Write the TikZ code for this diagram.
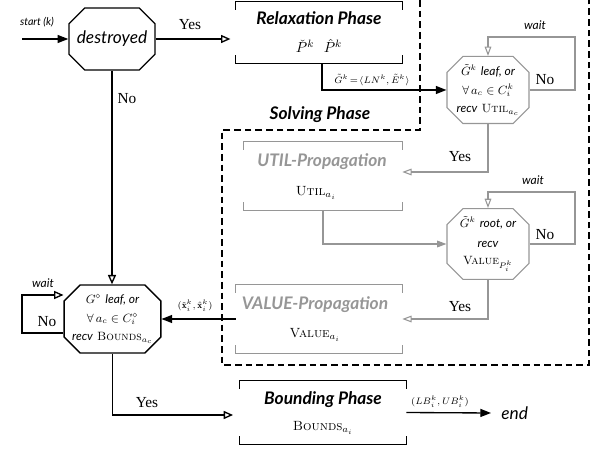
\documentclass[tikz,border=0pt]{standalone}
\usepackage{amsmath,amssymb}
\usepackage{fontspec}
\newfontfamily\lato{Lato}
\newfontfamily\timesf{Liberation Serif}
\usetikzlibrary{arrows.meta,shapes.misc,calc}
\definecolor{lgray}{RGB}{150,150,150}
\newcommand\phasebracket[2]{%
  \draw[#2] ($(#1.north west)+(0,8)$) -- (#1.north west) -- (#1.north east) -- ($(#1.north east)+(0,8)$);
  \draw[#2] ($(#1.south west)+(0,-8)$) -- (#1.south west) -- (#1.south east) -- ($(#1.south east)+(0,-8)$);}
\begin{document}
\begin{tikzpicture}[x=0.75pt,y=-0.75pt,
  oct/.style={chamfered rectangle, chamfered rectangle xsep=6pt, chamfered rectangle ysep=6pt,
    draw, line width=1pt, inner sep=0pt, align=center, font=\fontsize{9}{14}\selectfont},
  phasebox/.style={rectangle, inner sep=0pt, draw=none},
  title/.style={font=\lato\bfseries\itshape\fontsize{13}{15}\selectfont},
  sub/.style={font=\fontsize{10}{12}\selectfont},
  lbl/.style={font=\timesf\fontsize{11.5}{13}\selectfont, inner sep=1pt},
  small/.style={font=\fontsize{7}{8}\selectfont, inner sep=1pt},
  waitlbl/.style={font=\lato\itshape\fontsize{9}{11}\selectfont, inner sep=1pt},
  ln/.style={line width=1pt, draw=black},
  gln/.style={line width=0.8pt, draw=lgray},
  filltip/.style={-{Triangle[length=8pt,width=6pt]}},
  opentip/.style={-{Triangle[open,length=7pt,width=6pt]}},
  gfilltip/.style={-{Triangle[length=7pt,width=5pt,color=lgray]}},
  gopentip/.style={-{Triangle[open,length=7pt,width=5pt,color=lgray]}}
]
\useasboundingbox (0,0) rectangle (603,452);

% dashed solving-phase region
\draw[line width=0.9pt, dash pattern=on 5pt off 3pt] (420,0) -- (420,130) -- (222,130) -- (222,365) -- (589,365) -- (589,0);
\node[title] (solvT) at (320,115) {Solving Phase};

% destroyed
\node[oct, minimum width=61.5pt, minimum height=46.5pt, font=\lato\itshape\fontsize{13}{15}\selectfont] (destroyed) at (112,39) {destroyed};
\coordinate (start) at (22,39);
\node[font=\lato\itshape\fontsize{8}{10}\selectfont] (startT) at (37,22) {start (k)};
\draw[ln,filltip] (start) -- (destroyed.west);

% Relaxation phase
\node[phasebox, minimum width=124.5pt, minimum height=45.75pt] (relax) at (319,32.5) {};
\phasebracket{relax}{ln}
\node[title] (relaxT) at (319,18) {Relaxation Phase};
\node[sub, font=\fontsize{11}{13}\selectfont] (relaxS) at (319,46) {$\check{P}^k\ \ \hat{P}^k$};
\draw[ln,opentip,shorten >=4pt] (destroyed.east) -- (destroyed.east -| relax.west);
\node[lbl] (yes1) at (190,25) {Yes};

% octagon 1
\node[oct, draw=lgray, line width=0.8pt, minimum width=61.5pt, minimum height=49.5pt] (oct1) at (488,90)
  {$\tilde{G}^k$ {\lato\itshape leaf, or}\\ $\forall\, a_c\in C_i^k$\\ {\lato\itshape recv} \textsc{Util}$_{a_c}$};
\draw[ln,filltip] ($(relax.south)+(3,0)$) |- (oct1.west);
\node[small] (glbl) at (372,80) {$\tilde{G}^k\!=\!\langle LN^k,\tilde{E}^k\rangle$};
\coordinate (w1) at (575,37);
\draw[gln,gopentip] (oct1.east) -| (w1) -| (oct1.north);
\node[waitlbl] (wait1) at (535,25) {wait};
\node[lbl] (no1) at (545,80) {N\kern0pt o};

% UTIL propagation
\node[phasebox, minimum width=118.5pt, minimum height=51pt] (util) at (323,176) {};
\phasebracket{util}{gln}
\node[title, text=lgray] (utilT) at (322,162) {UTIL-Propagation};
\node[sub] (utilS) at (316,193) {\textsc{Util}$_{a_i}$};
\draw[gln,gopentip] (oct1.south) |- ($(util.east)+(0,-4)$);
\node[lbl] (yes2) at (460,157) {Yes};

% octagon 2
\node[oct, draw=lgray, line width=0.8pt, minimum width=61.5pt, minimum height=49.5pt] (oct2) at (488,244)
  {$\tilde{G}^k$ {\lato\itshape root, or}\\[1pt] {\lato\itshape recv}\\[-1pt] \textsc{Value}$_{P_i^k}$};
\draw[gln,gfilltip] (util.south) |- (oct2.west);
\coordinate (w2) at (575,192);
\draw[gln,gopentip] (oct2.east) -| (w2) -| (oct2.north);
\node[waitlbl] (wait2) at (533,180) {wait};
\node[lbl] (no2) at (545,235) {N\kern0pt o};

% VALUE propagation
\node[phasebox, minimum width=124.5pt, minimum height=51pt] (value) at (319,319) {};
\phasebracket{value}{gln}
\node[title, text=lgray] (valueT) at (315,305) {VALUE-Propagation};
\node[sub] (valueS) at (315,335) {\textsc{Value}$_{a_i}$};
\draw[gln,gopentip] (oct2.south) |- (value.east);
\node[lbl] (yes3) at (460,307) {Yes};

% octagon 3
\node[oct, minimum width=66.75pt, minimum height=51pt] (oct3) at (112.5,319)
  {$G^{\diamond}$ {\lato\itshape leaf, or}\\ $\forall\, a_c\in C_i^{\diamond}$\\ {\lato\itshape recv} \textsc{Bounds}$_{a_c}$};
\draw[ln,filltip] (value.west) -- (oct3.east);
\node[small] (xlbl) at (195,306) {$(\check{\mathbf{x}}_i^k,\hat{\mathbf{x}}_i^k)$};
\draw[ln,opentip] (destroyed.south) -- (destroyed.south |- oct3.north);
\node[lbl] (no3) at (127,99) {N\kern0pt o};
\coordinate (w3) at (22,295);
\draw[ln,opentip] ($(oct3.west)+(0,14)$) -| (w3) -- (w3 -| oct3.west);
\node[waitlbl] (wait3) at (43,283) {wait};
\node[lbl] (no4) at (47,322) {N\kern0pt o};

% Bounding phase
\node[phasebox, minimum width=124.5pt, minimum height=47.25pt] (bound) at (323,412.5) {};
\phasebracket{bound}{ln}
\node[title] (boundT) at (323,400) {Bounding Phase};
\node[sub] (boundS) at (323,428) {\textsc{Bounds}$_{a_i}$};
\draw[ln,opentip,shorten >=5pt] (oct3.south) |- ($(bound.west)+(0,2.5)$);
\node[lbl] (yes4) at (147,403) {Yes};
\node[anchor=west, inner xsep=7.5pt, font=\lato\itshape\fontsize{13}{15}\selectfont] (end) at (491,413) {end};
\draw[ln,filltip] (bound.east) -- (end.west);
\node[small] (lblb) at (440,402) {$(LB_i^k,UB_i^k)$};
\end{tikzpicture}
\end{document}
